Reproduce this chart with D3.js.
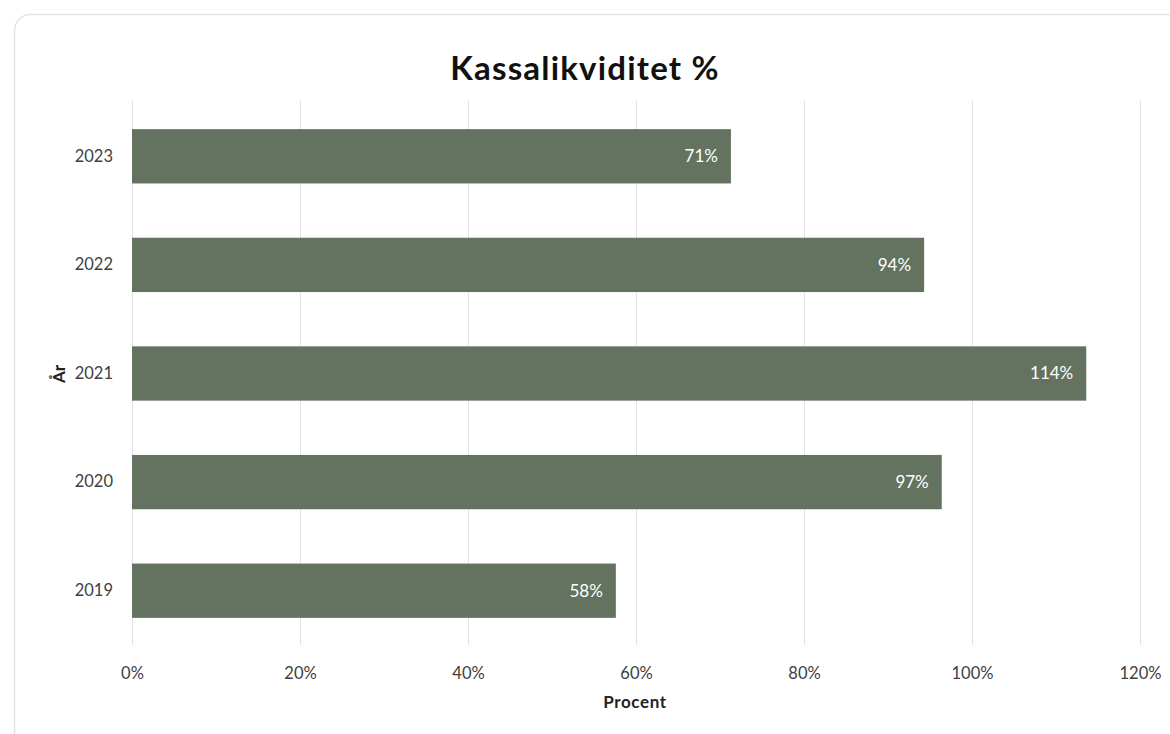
<!DOCTYPE html>
<html><head><meta charset="utf-8">
<script src="https://cdn.jsdelivr.net/npm/d3@7"></script>
<style>
html,body{margin:0;padding:0;background:#fff;}
svg{display:block;font-family:Lato,"Open Sans",sans-serif;}
</style></head>
<body><svg id="c" width="1170" height="734"></svg>
<script>
const years = ["2023","2022","2021","2020","2019"];
const values = [71.3, 94.3, 113.6, 96.4, 57.6];
const labels = ["71%","94%","114%","97%","58%"];
const xTicks = [0,20,40,60,80,100,120];
const title = "Kassalikviditet %";
const xTitle = "Procent";
const yTitle = "År";

const svg = d3.select("#c");
svg.append("rect").attr("x",14.5).attr("y",14.5).attr("width",1200).attr("height",740)
  .attr("rx",16).attr("fill","#fff").attr("stroke","#e3e3e3").attr("stroke-width",1.5);

const x = d3.scaleLinear().domain([0,120]).range([132,1140]);
const y = d3.scaleBand().domain(years).range([102,645]).paddingInner(0.5).paddingOuter(0.25);

const g = svg.append("g");
g.selectAll("line.grid").data(xTicks).join("line")
  .attr("x1",d=>x(d)+0.5).attr("x2",d=>x(d)+0.5).attr("y1",100).attr("y2",645)
  .attr("stroke","#e2e2e2").attr("stroke-width",1);

g.selectAll("rect.bar").data(years).join("rect")
  .attr("x",x(0)).attr("y",d=>y(d)).attr("height",y.bandwidth())
  .attr("width",(d,i)=>x(values[i])-x(0)).attr("fill","#637360");

g.selectAll("text.lbl").data(years).join("text")
  .attr("x",(d,i)=>x(values[i])-13).attr("y",d=>y(d)+y.bandwidth()/2)
  .attr("dy","0.35em").attr("text-anchor","end").attr("fill","#fff")
  .attr("font-size",17).text((d,i)=>labels[i]);

const xAxis = d3.axisBottom(x).tickValues(xTicks).tickFormat(d=>d+"%").tickSize(0).tickPadding(0);
const ax = svg.append("g").attr("transform","translate(0,673)").call(xAxis);
ax.select(".domain").remove();
ax.selectAll("text").attr("font-size",16.5).attr("fill","#404040").attr("font-family","Lato,sans-serif").attr("dy","0.35em");

const yAxis = d3.axisLeft(y).tickSize(0).tickPadding(0);
const ay = svg.append("g").attr("transform","translate(113,0)").call(yAxis);
ay.select(".domain").remove();
ay.selectAll("text").attr("font-size",16.5).attr("fill","#404040").attr("font-family","Lato,sans-serif");

svg.append("text").attr("x",585).attr("y",68).attr("dy","0.35em").attr("text-anchor","middle")
  .attr("font-size",33).attr("font-weight","bold").attr("letter-spacing",1.2).attr("fill","#111").text(title);
svg.append("text").attr("x",635).attr("y",702).attr("dy","0.35em").attr("text-anchor","middle")
  .attr("font-size",17).attr("font-weight","bold").attr("letter-spacing",0.6).attr("fill","#222").text(xTitle);
svg.append("text").attr("transform","translate(59,374) rotate(-90)").attr("dy","0.35em").attr("text-anchor","middle")
  .attr("font-size",17).attr("font-weight","bold").attr("fill","#222").text(yTitle);
</script>
</body></html>
